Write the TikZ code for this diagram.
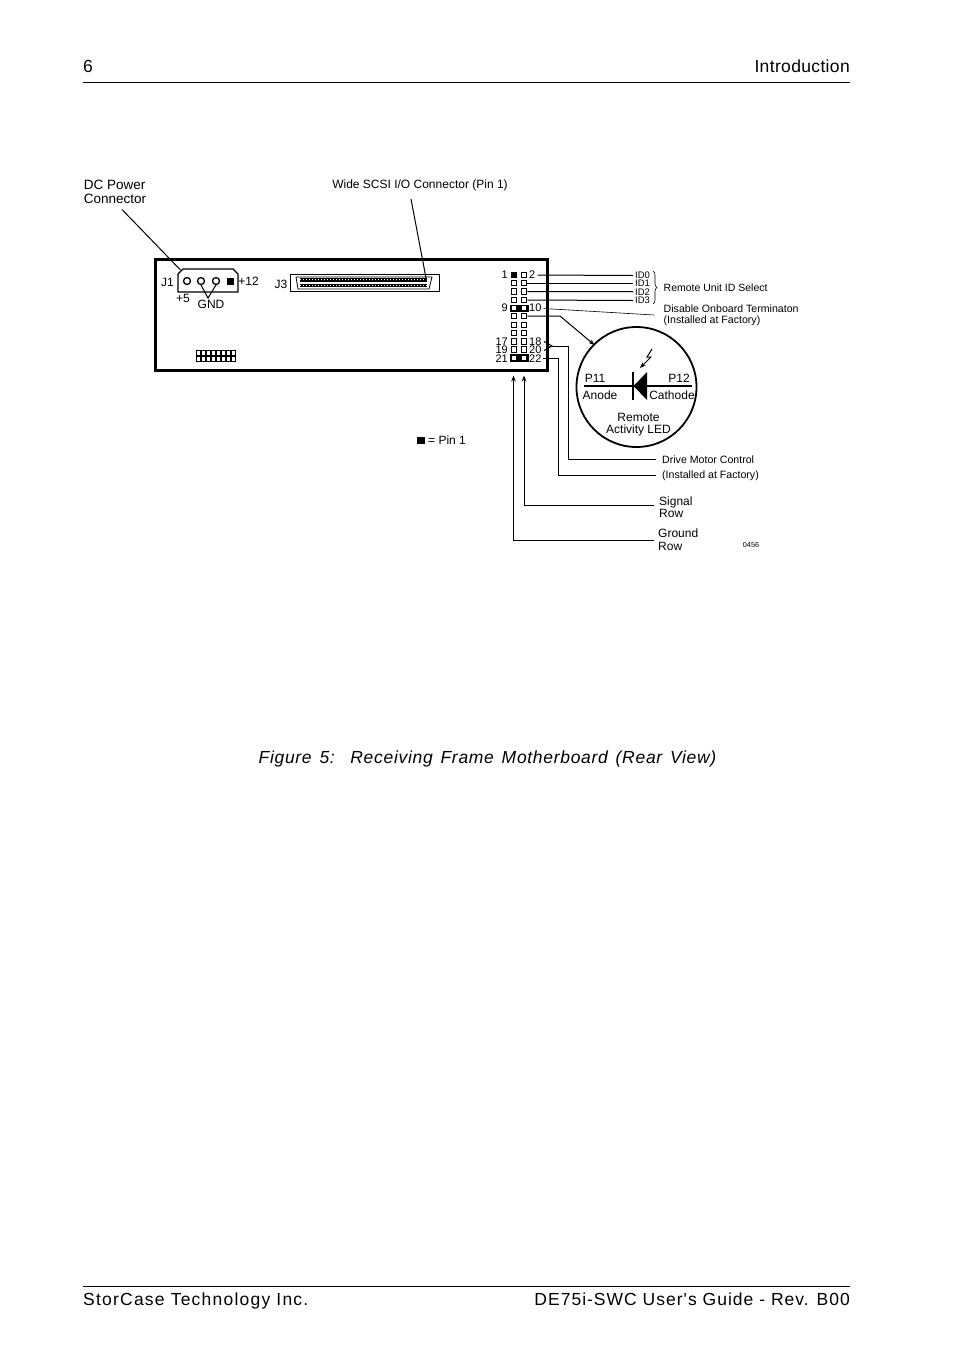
\documentclass[tikz,border=0pt]{standalone}
\usepackage{fontspec}
\setmainfont{Liberation Sans}
\newfontfamily\headfont[LetterSpace=2]{Liberation Sans}
\newfontfamily\footfont[LetterSpace=5.8]{Liberation Sans}
\newfontfamily\makerfont[LetterSpace=7]{Liberation Sans}
\newfontfamily\capfont[LetterSpace=4,WordSpace=1.4]{Liberation Sans}
\usetikzlibrary{calc,arrows.meta,decorations.pathreplacing}
\tikzset{
    lbl/.style={font=\fontsize{12}{12.5}\selectfont, inner sep=0, align=left},
    pinlbl/.style={font=\fontsize{11}{11}\selectfont, inner sep=0},
    small/.style={font=\fontsize{9.5}{9.5}\selectfont, inner sep=0},
    pinbox/.style={draw, line width=1pt, fill=white, minimum size=5.5pt, inner sep=0},
    gridbox/.style={draw, line width=0.6pt, fill=white, minimum size=4.4pt, inner sep=0},
    headtxt/.style={font=\headfont\fontsize{17.5}{20}\selectfont, inner sep=0},
    foottxt/.style={font=\footfont\fontsize{17.5}{20}\selectfont, inner sep=0},
    lead/.style={line width=1pt},
    tip/.style={lead, -{Stealth[length=6pt,width=4.5pt]}},
}
\begin{document}
\begin{tikzpicture}[x=1pt,y=-1pt]
    \useasboundingbox (0,0) rectangle (954,1369);

    % page head and foot
    \node[headtxt, anchor=base west] (pageno) at (83,72.5) {6};
    \node[headtxt, anchor=base east] (chapter) at (850,72.5) {Introduction};
    \draw[line width=0.8pt] (83,82) coordinate (headL) -- (850,82) coordinate (headR);
    \draw[line width=0.8pt] (83,1286) coordinate (footL) -- (850,1286) coordinate (footR);
    \node[foottxt, anchor=base west, font=\makerfont\fontsize{17.5}{20}\selectfont] (maker) at (83,1305.5) {StorCase Technology Inc.};
    \node[foottxt, anchor=base east] (guide) at (850,1305.5) {DE75i-SWC User's Guide - Rev. B00};
    \node[inner sep=0, font=\capfont\itshape\fontsize{17.5}{20}\selectfont] (caption) at (487.5,759)
        {Figure 5:\ \ Receiving Frame Motherboard (Rear View)};

    % board
    \draw[line width=3pt] (155.5,259) rectangle (547,370);

    % J1
    \draw[line width=1.2pt] (178,292) -- (178,274) -- (183,269) -- (233,269) -- (238,274) -- (238,292) -- cycle;
    \foreach \x/\n in {187/a,201/b,216/c}
        \draw[line width=1.3pt] (\x,281) circle (3.5) coordinate (j1\n);
    \fill (226.5,277.5) rectangle (234,284.5);
    \coordinate (gnd) at (208,298);
    \draw[lead] (201,285) -- (gnd) -- (216,285);
    \node[lbl] (j1) at (167.5,282.5) {J1};
    \node[lbl] (plus12) at (248.5,281) {+12};
    \node[lbl] (plus5) at (183,298.5) {+5};
    \node[lbl] (gndlbl) at (211,304.5) {GND};

    % J3
    \draw[line width=0.8pt] (290,274) rectangle (439,291);
    \draw[line width=0.8pt] (296,277) -- (298,289) -- (429,289) -- (432,277) -- cycle;
    \fill (300,278) rectangle (427,281.5);
    \fill (300,284) rectangle (427,287);
    \draw[white, line width=1pt, dash pattern=on 1.2pt off 1.8pt] (300,279.7) -- (424,279.7);
    \draw[white, line width=1pt, dash pattern=on 1.2pt off 1.8pt] (300,285.5) -- (427,285.5);
    \coordinate (pinone) at (426,278);
    \node[lbl] (j3) at (281,284.5) {J3};

    % small header
    \foreach \i in {0,...,7} {
        \node[gridbox] (grida\i) at ({198.5+\i*4.95},352.7) {};
        \node[gridbox] (gridb\i) at ({198.5+\i*4.95},358.7) {};
    }

    % jumper blocks first
    \fill (509.5,304.5) rectangle (528.5,312);
    \fill (509.5,354) rectangle (528.5,361.5);

    % pin header
    \foreach \r/\y in {0/275,1/283,2/291.5,3/300,4/308.2,5/316,6/325,7/333,8/341.5,9/349.5,10/358} {
        \node[pinbox] (pinL\r) at (514,\y) {};
        \node[pinbox] (pinR\r) at (524,\y) {};
    }
    \fill (511,272) rectangle (517,278);
    \node[pinlbl, anchor=east] (n1) at (508,275) {1};
    \node[pinlbl, anchor=west] (n2) at (529,275) {2};
    \node[pinlbl, anchor=east] (n9) at (508,308) {9};
    \node[pinlbl, anchor=west] (n10) at (529,308) {10};
    \node[pinlbl, anchor=east] (n17) at (508,341.3) {17};
    \node[pinlbl, anchor=west] (n18) at (529,341.3) {18};
    \node[pinlbl, anchor=east] (n19) at (508,349.8) {19};
    \node[pinlbl, anchor=west] (n20) at (529,349.8) {20};
    \node[pinlbl, anchor=east] (n21) at (508,358.3) {21};
    \node[pinlbl, anchor=west] (n22) at (529,358.3) {22};

    % ID lines
    \foreach \r/\y/\t in {0/275.5/ID0,1/283/ID1,2/291.7/ID2,3/300.5/ID3}
        \node[small, anchor=west] (id\r) at (635,\y) {\t};
    \draw[lead] (n2.east) ++(2,0) -- (633,275.5);
    \draw[lead] (pinR1) -- (633,283);
    \draw[lead] (pinR2) -- (633,291.7);
    \draw[lead] (pinR3) -- (633,300.5);
    \coordinate (braceT) at (653,271);
    \coordinate (braceB) at (653,304);
    \draw[line width=0.6pt, decorate, decoration={brace, amplitude=4pt}] (braceT) -- (braceB);
    \node[lbl, anchor=west, font=\fontsize{10.5}{12}\selectfont] (idsel) at (663.5,288) {Remote Unit ID Select};
    \node[lbl, anchor=west, font=\fontsize{10.6}{11}\selectfont] (term) at (663.5,315) {Disable Onboard Terminaton\\(Installed at Factory)};
    \coordinate (termend) at (654,315);
    \draw[line width=0.6pt] (n10.east) ++(2,0.5) -- (termend);

    % LED detail
    \coordinate (led) at (636.5,387);
    \draw[line width=1.8pt] (led) circle (60);
    \draw[line width=1.6pt] (584,386) -- (692,386);
    \draw[line width=1.8pt] (633,372) -- (633,400);
    \fill (633.5,386) -- (647,372) -- (647,400) -- cycle;
    \draw[lead, -{Stealth[length=6pt,width=4.5pt]}] (652,349) -- (647,357) -- (651,357) -- (640,368);
    \node[lbl] (p11) at (595,378.5) {P11};
    \node[lbl] (p12) at (679,378.5) {P12};
    \node[lbl] (anode) at (600,395.5) {Anode};
    \node[lbl] (cathode) at (672,395.5) {Cathode};
    \node[lbl, align=center] (remote) at (638.5,424.5) {Remote\\Activity LED};
    \coordinate (bend) at (560,316);
    \coordinate (ledin) at (594.5,345);
    \draw[tip] (pinR5) -- (bend) -- (ledin);

    % leaders below
    \coordinate (tip18) at (552,346);
    \draw[line width=1pt] (544,341.5) -- (tip18) -- (544,350.5);
    \draw[line width=0.5pt] (546,347.5) -- (tip18);
    \node[lbl, anchor=west, font=\fontsize{10.6}{12}\selectfont] (motor) at (662,459.5) {Drive Motor Control};
    \node[lbl, anchor=west, font=\fontsize{10.6}{12}\selectfont] (factory) at (662,475.5) {(Installed at Factory)};
    \draw[lead] (tip18) -| (568,459) -- (656,459);
    \draw[lead] (n22.east) ++(1,0) -| (558.5,475) -- (656,475);
    \node[lbl, anchor=west] (signal) at (659,507) {Signal\\Row};
    \node[lbl, anchor=west] (ground) at (658,539.5) {Ground\\Row};
    \coordinate (sigrow) at (524,375.5);
    \coordinate (gndrow) at (513.5,375.5);
    \draw[tip] (654,505) -- (524,505) -- (sigrow);
    \draw[tip] (654,540) -- (513.5,540) -- (gndrow);
    \node[inner sep=0, font=\fontsize{7.3}{8}\selectfont] (code) at (751,544.5) {0456};

    % callouts above
    \node[lbl, font=\fontsize{13.5}{14}\selectfont] (dcpower) at (115,191.5) {DC Power\\Connector};
    \coordinate (dcend) at (180.5,270);
    \draw[lead] (122,209.5) -- (dcend);
    \node[lbl] (scsi) at (420,185.5) {Wide SCSI I/O Connector (Pin 1)};
    \draw[lead] (411,199) -- (pinone);

    % key
    \fill (417,436.5) rectangle (425,444);
    \node[lbl, anchor=west] (key) at (428,440.5) {= Pin 1};
\end{tikzpicture}
\end{document}
